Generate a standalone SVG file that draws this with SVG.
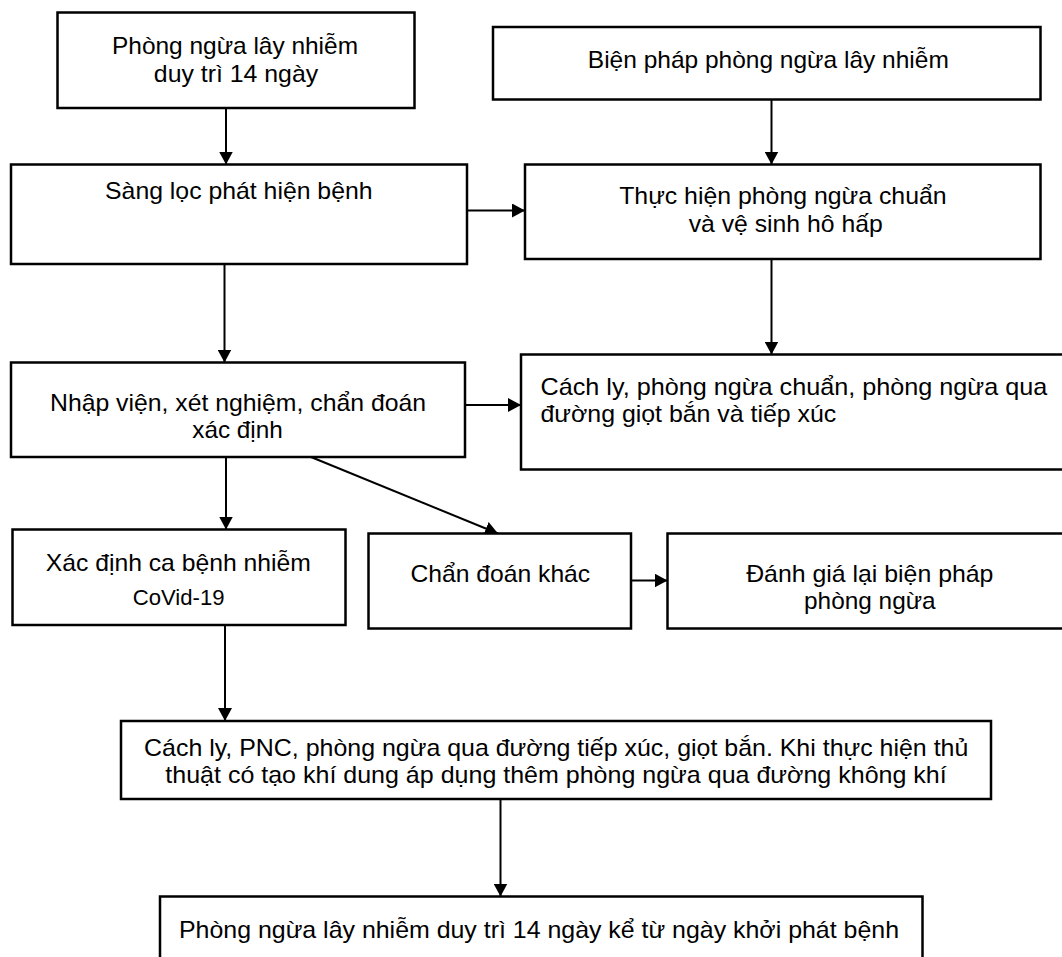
<svg xmlns="http://www.w3.org/2000/svg" width="1062" height="957" viewBox="0 0 1062 957">
<style>
.box{fill:#fff;stroke:#000;stroke-width:2.5}
.t{font-family:"Liberation Sans",Arial,sans-serif;font-size:24px;fill:#000;text-anchor:middle}
.l{text-anchor:start}
.s{font-size:22px}
.c{stroke:#000;stroke-width:2;fill:none;marker-end:url(#ah)}
</style>
<defs>
<marker id="ah" markerUnits="userSpaceOnUse" markerWidth="14" markerHeight="14" refX="13" refY="7" orient="auto">
<path d="M0,0 L13,7 L0,14 z" fill="#000"/>
</marker>
</defs>
<rect width="1062" height="957" fill="#fff"/>
<g id="connectors">
<path class="c" d="M226,108 L226,164.5"/>
<path class="c" d="M771.5,99.5 L771.5,164.5"/>
<path class="c" d="M467,210.5 L525,210.5"/>
<path class="c" d="M224.5,264 L224.5,362.5"/>
<path class="c" d="M771.5,259 L771.5,354.5"/>
<path class="c" d="M465,405 L521,405"/>
<path class="c" d="M226,457 L226,529.5"/>
<path class="c" d="M311,457 L498,533.5"/>
<path class="c" d="M631,580.5 L667.5,580.5"/>
<path class="c" d="M225,625 L225,721"/>
<path class="c" d="M500.5,799 L500.5,896.5"/>
</g>
<g id="n1">
<rect class="box" x="57.5" y="12.5" width="357" height="95.5"/>
<text class="t" x="235" y="54" textLength="246" lengthAdjust="spacingAndGlyphs">Phòng ngừa lây nhiễm</text>
<text class="t" x="236" y="81.7" textLength="164.3" lengthAdjust="spacingAndGlyphs">duy trì 14 ngày</text>
</g>
<g id="n2">
<rect class="box" x="493" y="27" width="547.5" height="72.5"/>
<text class="t" x="768.3" y="68.3" textLength="361" lengthAdjust="spacingAndGlyphs">Biện pháp phòng ngừa lây nhiễm</text>
</g>
<g id="n3">
<rect class="box" x="11" y="164.5" width="456" height="99.5"/>
<text class="t" x="238.8" y="199" textLength="267.5" lengthAdjust="spacingAndGlyphs">Sàng lọc phát hiện bệnh</text>
</g>
<g id="n4">
<rect class="box" x="525" y="164.5" width="515.5" height="94.5"/>
<text class="t" x="782.9" y="204" textLength="327.4" lengthAdjust="spacingAndGlyphs">Thực hiện phòng ngừa chuẩn</text>
<text class="t" x="785.7" y="232" textLength="194" lengthAdjust="spacingAndGlyphs">và vệ sinh hô hấp</text>
</g>
<g id="n5">
<rect class="box" x="11" y="362.5" width="454" height="94.5"/>
<text class="t" x="238" y="410.7" textLength="376" lengthAdjust="spacingAndGlyphs">Nhập viện, xét nghiệm, chẩn đoán</text>
<text class="t" x="237.5" y="438" textLength="90.5" lengthAdjust="spacingAndGlyphs">xác định</text>
</g>
<g id="n6">
<rect class="box" x="521" y="354.5" width="559" height="115"/>
<text class="t l" x="540.5" y="395" textLength="506.7" lengthAdjust="spacingAndGlyphs">Cách ly, phòng ngừa chuẩn, phòng ngừa qua</text>
<text class="t l" x="540.5" y="421.7" textLength="295.8" lengthAdjust="spacingAndGlyphs">đường giọt bắn và tiếp xúc</text>
</g>
<g id="n7">
<rect class="box" x="12.5" y="529.5" width="333" height="95.5"/>
<text class="t" x="178.3" y="570.7" textLength="265" lengthAdjust="spacingAndGlyphs">Xác định ca bệnh nhiễm</text>
<text class="t s" x="178.6" y="605" textLength="91.8" lengthAdjust="spacingAndGlyphs">CoVid-19</text>
</g>
<g id="n8">
<rect class="box" x="368.5" y="533.5" width="262.5" height="95"/>
<text class="t" x="500.3" y="581.7" textLength="179.8" lengthAdjust="spacingAndGlyphs">Chẩn đoán khác</text>
</g>
<g id="n9">
<rect class="box" x="667.5" y="533.5" width="404.5" height="95"/>
<text class="t" x="869.8" y="581.7" textLength="247.3" lengthAdjust="spacingAndGlyphs">Đánh giá lại biện pháp</text>
<text class="t" x="869.8" y="609" textLength="131.5" lengthAdjust="spacingAndGlyphs">phòng ngừa</text>
</g>
<g id="n10">
<rect class="box" x="121" y="721" width="870" height="78"/>
<text class="t" x="556.2" y="756" textLength="824.3" lengthAdjust="spacingAndGlyphs">Cách ly, PNC, phòng ngừa qua đường tiếp xúc, giọt bắn. Khi thực hiện thủ</text>
<text class="t" x="556" y="782.5" textLength="781.4" lengthAdjust="spacingAndGlyphs">thuật có tạo khí dung áp dụng thêm phòng ngừa qua đường không khí</text>
</g>
<g id="n11">
<rect class="box" x="160" y="896.5" width="762.5" height="73.5"/>
<text class="t" x="539" y="938.3" textLength="720" lengthAdjust="spacingAndGlyphs">Phòng ngừa lây nhiễm duy trì 14 ngày kể từ ngày khởi phát bệnh</text>
</g>
</svg>
